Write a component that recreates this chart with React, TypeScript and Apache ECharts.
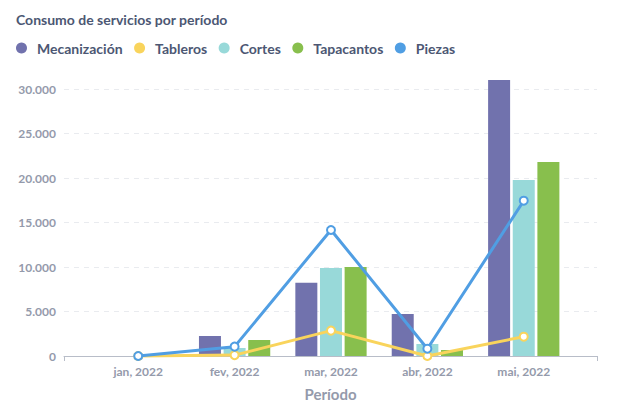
import React, { useEffect, useRef } from "react";
import * as echarts from "echarts";

const categories = ["jan, 2022", "fev, 2022", "mar, 2022", "abr, 2022", "mai, 2022"];
const mecanizacion = [0, 2250, 8240, 4720, 31000];
const tableros = [0, 100, 2850, 0, 2170];
const cortes = [0, 900, 9890, 1350, 19780];
const tapacantos = [0, 1800, 10000, 670, 21800];
const piezas = [0, 1050, 14160, 820, 17450];
const yTicks = [0, 5000, 10000, 15000, 20000, 25000, 30000];

const COLORS = {
  mec: "#7172AD",
  tab: "#F9D45C",
  cor: "#98D9D9",
  tap: "#88BF4D",
  pie: "#509EE3",
};

const pairs = (arr: number[]) => arr.map((v, i) => [i, v]);

export default function App() {
  const ref = useRef<HTMLDivElement>(null);
  useEffect(() => {
    if (!ref.current) return;
    const chart = echarts.init(ref.current, null, { renderer: "svg" });
    const fmt = (v: number) => v.toLocaleString("de-DE");
    const barCommon = {
      type: "bar" as const,
      barWidth: 22,
      barGap: "12%",
      clip: false,
      z: 2,
    };
    const lineCommon = {
      type: "line" as const,
      symbol: "emptyCircle",
      symbolSize: 8,
      lineStyle: { width: 3 },
      itemStyle: { borderWidth: 2 },
      z: 3,
      clip: false,
    };
    chart.setOption({
      animation: false,
      textStyle: { fontFamily: "Lato" },
      title: {
        text: "Consumo de servicios por período",
        left: 16,
        top: 12,
        padding: 0,
        textStyle: { fontSize: 14, fontWeight: 700, color: "#4C5773", fontFamily: "Lato" },
      },
      legend: {
        left: 16,
        top: 41,
        padding: 0,
        icon: "circle",
        itemWidth: 11,
        itemHeight: 11,
        itemGap: 11.5,
        data: ["Mecanización", "Tableros", "Cortes", "Tapacantos", "Piezas"],
        textStyle: {
          fontSize: 14,
          color: "#4C5773",
          fontFamily: "Lato",
          fontWeight: 700,
          padding: [0, 0, 0, 5],
        },
      },
      grid: { left: 64, right: 31, top: 89, bottom: 55, containLabel: false },
      xAxis: {
        type: "value",
        min: -0.77,
        max: 4.76,
        name: "Período",
        nameLocation: "middle",
        nameGap: 30,
        nameTextStyle: { fontSize: 15, fontWeight: 700, color: "#949AAB", fontFamily: "Lato" },
        axisLine: { show: true, lineStyle: { color: "#B8BDC8", width: 1 } },
        axisTick: { show: true, customValues: [-0.77, 4.76], length: 5, lineStyle: { color: "#B8BDC8" } },
        splitLine: { show: false },
        axisLabel: {
          customValues: [0, 1, 2, 3, 4],
          formatter: (v: number) => categories[Math.round(v)] ?? "",
          fontSize: 12,
          fontWeight: 700,
          color: "#949AAB",
          margin: 9,
          fontFamily: "Lato",
        },
      },
      yAxis: {
        type: "value",
        min: 0,
        max: 30000,
        interval: 5000,
        axisLine: { show: false },
        axisTick: { show: false },
        splitLine: { show: true, lineStyle: { color: "#E9EBEF", type: [5, 5] } },
        axisLabel: {
          customValues: yTicks,
          formatter: (v: number) => fmt(v),
          fontSize: 12,
          fontWeight: 700,
          color: "#949AAB",
          margin: 8,
          fontFamily: "Lato",
        },
      },
      series: [
        { ...barCommon, name: "Mecanización", data: pairs(mecanizacion), itemStyle: { color: COLORS.mec } },
        { ...lineCommon, name: "Tableros", data: pairs(tableros), itemStyle: { color: COLORS.tab, borderWidth: 2 }, lineStyle: { width: 3, color: COLORS.tab } },
        { ...barCommon, name: "Cortes", data: pairs(cortes), itemStyle: { color: COLORS.cor } },
        { ...barCommon, name: "Tapacantos", data: pairs(tapacantos), itemStyle: { color: COLORS.tap } },
        { ...lineCommon, name: "Piezas", data: pairs(piezas), itemStyle: { color: COLORS.pie, borderWidth: 2 }, lineStyle: { width: 3, color: COLORS.pie }, z: 4 },
      ],
    });
    return () => chart.dispose();
  }, []);
  return (
    <div
      ref={ref}
      style={{ position: "fixed", left: 0, top: 0, width: 628, height: 411, background: "#fff" }}
    />
  );
}
